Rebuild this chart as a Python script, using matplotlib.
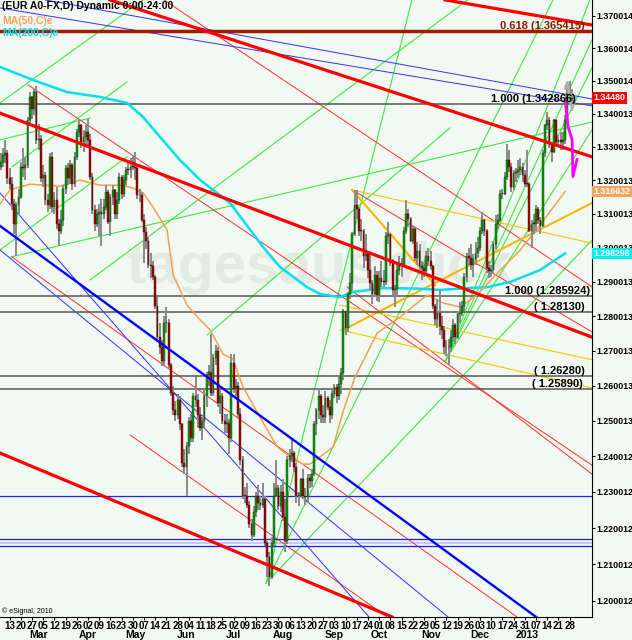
import matplotlib
matplotlib.use("Agg")
import matplotlib.pyplot as plt
import numpy as np
from matplotlib.ticker import FixedLocator, FixedFormatter, NullLocator

plt.rcParams['font.family'] = ['Liberation Sans Narrow', 'Liberation Sans', 'DejaVu Sans']

# trading-day index, 0 = Mon 13 Feb 2012 ; prices in pips after "1."
days = np.arange(-4, 252)
opens = [3240,3255,3275,3280,
 3205,3190,3130,3070,3125, 3150,3240,3235,3245,3380, 3450,3415,3465,3320,3325,
 3205,3215,3140,3125,3270, 3120,3140,3070,3050,3080, 3175,3235,3205,3245,3190,
 3270,3345,3365,3315,3330, 3345,3320,3210,3110,3070, 3100,3105,3100,3120,3165,
 3075,3150,3170,3100,3140, 3210,3160,3200,3230,3230, 3240,3240,3235,3155,3155,
 3080,3045,3020,2950,2945, 2915,2830,2740,2710,2670, 2780,2780,2660,2580,2530,
 2515,2560,2490,2380,2370, 2430,2500,2450,2570,2560, 2515,2480,2500,2570,2630,
 2640,2580,2680,2700,2550, 2570,2500,2490,2495,2450, 2665,2590,2600,2520,2390,
 2290,2290,2265,2210,2180, 2245,2290,2270,2265,2280, 2160,2120,2065,2160,2290,
 2310,2260,2300,2230,2165, 2390,2400,2410,2370,2290, 2290,2335,2290,2285,2340,
 2330,2350,2490,2530,2570, 2515,2510,2565,2540,2515, 2575,2595,2570,2605,2635,
 2815,2765,2865,2895,3040, 3125,3115,3050,3050,2975, 2980,2935,2895,2865,2920,
 2860,2910,2900,2900,3035, 3040,2955,2875,2880,2935, 2955,2950,3050,3100,3085,
 3020,3055,2970,2990,2945, 2940,2930,2975,2960,2945, 2830,2790,2810,2770,2760,
 2710,2710,2710,2740,2775, 2740,2805,2810,2830,2915, 2975,2970,2950,2965,2985,
 3000,3050,3080,3050,2940, 2930,2935,3010,3070,3080, 3160,3160,3210,3260,3240,
 3180,3220,3225,3230,3240, 3215,3190,3190,3050,3070, 3070,3115,3080,3065,3280,
 3365,3380,3305,3285,3380, 3315,3320,3315,3320,3380, 3460,3445]
highs = [3282,3295,3322,3290,
 3235,3210,3145,3135,3175, 3255,3295,3270,3390,3465, 3455,3475,3486,3370,3335,
 3245,3225,3160,3280,3285, 3165,3180,3085,3110,3185, 3245,3250,3260,3250,3285,
 3355,3385,3370,3350,3365, 3385,3340,3220,3125,3115, 3130,3145,3145,3185,3170,
 3160,3185,3175,3165,3220, 3215,3215,3240,3255,3265, 3275,3284,3245,3175,3165,
 3100,3060,3030,2985,2960, 2920,2855,2780,2730,2800, 2825,2790,2665,2600,2555,
 2575,2570,2495,2420,2440, 2510,2520,2580,2625,2575, 2540,2510,2590,2640,2660,
 2748,2690,2715,2710,2590, 2580,2520,2520,2505,2690, 2690,2620,2610,2535,2400,
 2315,2325,2275,2225,2260, 2300,2320,2290,2325,2290, 2165,2135,2175,2325,2390,
 2320,2320,2335,2280,2400, 2420,2445,2415,2380,2300, 2340,2365,2310,2350,2350,
 2365,2500,2535,2590,2575, 2545,2585,2570,2560,2590, 2605,2605,2625,2650,2820,
 2815,2870,2925,3045,3170, 3172,3120,3085,3055,3040, 2985,2985,2905,2945,2930,
 2930,2960,2935,3045,3075, 3040,2965,2890,2950,2975, 2970,3060,3140,3115,3090,
 3065,3060,3015,3010,2960, 2955,2990,3000,2990,2950, 2835,2850,2875,2800,2770,
 2730,2735,2760,2790,2780, 2815,2840,2845,2925,2985, 3000,3010,2980,3015,3030,
 3060,3105,3085,3055,2960, 2950,3020,3095,3100,3170, 3175,3225,3308,3290,3250,
 3230,3235,3260,3265,3250, 3230,3290,3195,3080,3100, 3125,3120,3090,3290,3370,
 3405,3390,3310,3385,3385, 3335,3345,3345,3395,3480, 3500,3475]
lows = [3230,3240,3250,3190,
 3175,3110,3040,2975,3100, 3145,3210,3200,3235,3365, 3385,3395,3310,3290,3195,
 3180,3125,3105,3115,3105, 3100,3055,3005,3040,3065, 3160,3185,3190,3170,3180,
 3260,3330,3295,3285,3310, 3305,3200,3100,3050,3060, 3035,3005,3085,3110,3070,
 3035,3125,3085,3085,3130, 3145,3150,3185,3215,3205, 3230,3200,3145,3135,3075,
 2955,2995,2940,2910,2905, 2820,2725,2690,2655,2655, 2750,2650,2570,2515,2500,
 2505,2475,2370,2350,2288, 2405,2440,2440,2540,2480, 2470,2445,2480,2540,2600,
 2570,2570,2660,2540,2520, 2490,2465,2465,2405,2440, 2580,2570,2510,2375,2280,
 2270,2255,2200,2165,2175, 2230,2250,2250,2255,2150, 2065,2042,2060,2150,2285,
 2250,2245,2220,2135,2155, 2370,2385,2355,2270,2260, 2285,2280,2265,2270,2310,
 2315,2345,2460,2505,2495, 2495,2495,2530,2495,2505, 2565,2550,2560,2575,2615,
 2745,2755,2850,2875,3035, 3085,3035,3020,2940,2960, 2910,2875,2835,2855,2845,
 2840,2885,2885,2890,3010, 2945,2860,2825,2860,2920, 2915,2945,3040,3060,3015,
 3010,2960,2950,2935,2905, 2915,2920,2945,2935,2820, 2775,2765,2745,2735,2690,
 2685,2661,2695,2725,2720, 2735,2780,2800,2815,2900, 2950,2935,2915,2950,2970,
 2990,3040,3035,2925,2910, 2915,2925,2995,3055,3075, 3145,3155,3200,3225,3165,
 3170,3195,3205,3215,3195, 3180,3180,3045,2998,3040, 3050,3070,3040,3060,3270,
 3350,3295,3255,3280,3305, 3300,3290,3290,3310,3370, 3430,3430]
closes = [3255,3275,3280,3205,
 3190,3130,3070,3125,3150, 3240,3235,3245,3380,3450, 3415,3465,3320,3325,3205,
 3215,3140,3125,3270,3120, 3140,3070,3050,3080,3175, 3235,3205,3245,3190,3270,
 3345,3365,3315,3330,3345, 3320,3210,3110,3070,3100, 3105,3100,3120,3165,3075,
 3150,3170,3100,3140,3210, 3160,3200,3230,3230,3240, 3240,3235,3155,3155,3080,
 3045,3020,2950,2945,2915, 2830,2740,2710,2670,2780, 2780,2660,2580,2530,2515,
 2560,2490,2380,2370,2430, 2500,2450,2570,2560,2515, 2480,2500,2570,2630,2640,
 2580,2680,2700,2550,2570, 2500,2490,2495,2450,2665, 2590,2600,2520,2390,2290,
 2290,2265,2210,2180,2245, 2290,2270,2265,2280,2160, 2120,2065,2160,2290,2310,
 2260,2300,2230,2165,2390, 2400,2410,2370,2290,2290, 2335,2290,2285,2340,2330,
 2350,2490,2530,2570,2515, 2510,2565,2540,2515,2575, 2595,2570,2605,2635,2815,
 2765,2865,2895,3040,3125, 3115,3050,3050,2975,2980, 2935,2895,2865,2920,2860,
 2910,2900,2900,3035,3040, 2955,2875,2880,2935,2955, 2950,3050,3100,3085,3020,
 3055,2970,2990,2945,2940, 2930,2975,2960,2945,2830, 2790,2810,2770,2760,2710,
 2710,2710,2740,2775,2740, 2805,2810,2830,2915,2975, 2970,2950,2965,2985,3000,
 3050,3080,3050,2940,2930, 2935,3010,3070,3080,3160, 3160,3210,3260,3240,3180,
 3220,3225,3230,3240,3215, 3190,3190,3050,3070,3070, 3115,3080,3065,3280,3365,
 3380,3305,3285,3380,3315, 3320,3315,3320,3380,3460, 3445,3448]

week_labels = ["13","20","27","05","12","19","26","02","09","16","23","30","07","14",
               "21","28","04","11","18","25","02","09","16","23","30","06","13","20",
               "27","03","10","17","24","01","08","15","22","29","05","12","19","26",
               "03","10","17","24","31","07","14","21","28"]
months = ["Mar", "Apr", "May", "Jun", "Jul", "Aug", "Sep", "Oct", "Nov", "Dec", "2013"]
month_days = [13, 35, 56, 79, 100, 122, 145, 165, 188, 210, 231]
price_ticks = [1.200012, 1.210012, 1.220012, 1.230012, 1.240012, 1.250013, 1.260013,
               1.270013, 1.280013, 1.290013, 1.300013, 1.310013, 1.320013, 1.330013,
               1.340013, 1.350014, 1.360014, 1.370014]

ma50_days = [-4.3, 0.2, 9.1, 22.5, 31.4, 40.4, 50.6, 55.1, 59.6, 64.0, 70.3, 73.0, 79.2,
             85.0, 89.5, 95.3, 99.7, 104.2, 111.8, 119.5, 125.2, 131.0, 134.1, 138.6,
             144.4, 148.8, 154.2, 164.1, 174.3, 186.3, 193.5, 201.1, 208.7, 219.0,
             228.0, 236.8, 248.0]
ma50 = [1.3129, 1.3171, 1.3188, 1.3182, 1.3200, 1.3185, 1.3185, 1.3176, 1.3162, 1.3120,
        1.3052, 1.2920, 1.2832, 1.2789, 1.2760, 1.2690, 1.2676, 1.2596, 1.2510, 1.2426,
        1.2398, 1.2378, 1.2378, 1.2398, 1.2426, 1.2525, 1.2624, 1.2751, 1.2797, 1.2861,
        1.2838, 1.2826, 1.2861, 1.2934, 1.2993, 1.3067, 1.3166]
ma200_days = [-4.3, 10.4, 25.6, 40.4, 52.4, 59.6, 67.1, 76.1, 85.0, 98.4, 113.1, 120.7,
              132.8, 138.6, 147.5, 153.3, 166.7, 181.9, 192.1, 204.2, 213.1, 223.4,
              236.8, 248.0]
ma200 = [1.3543, 1.3503, 1.3466, 1.3451, 1.3433, 1.3390, 1.3330, 1.3260, 1.3201, 1.3132,
         1.3002, 1.2943, 1.2884, 1.2864, 1.2855, 1.2870, 1.2881, 1.2880, 1.2876, 1.2881,
         1.2884, 1.2899, 1.2934, 1.2983]

# trend lines: (day, price) end points
red_thick = [[(-4.3, 1.3402), (260, 1.2739)], [(44.8, 1.3750), (260, 1.3270)],
             [(194.4, 1.3750), (260, 1.3672)], [(-4.3, 1.2409), (170.7, 1.1957)]]
red_thin = [[(8.2, 1.3488), (260, 1.2375)], [(68.9, 1.3750), (260, 1.2885)],
            [(150.6, 1.2885), (260, 1.2350)], [(152.9, 1.3171), (260, 1.2754)],
            [(1.1, 1.2972), (226.5, 1.1957)], [(53.8, 1.2460), (168.5, 1.1957)]]
blue_thick = [[(-4.3, 1.3064), (235, 1.1957)]]
blue_thin = [[(15.8, 1.3750), (260, 1.3445)], [(-4.3, 1.3725), (260, 1.3424)],
             [(-4.3, 1.3162), (160.4, 1.1957)], [(-4.3, 1.2993), (195.7, 1.1957)]]
blue_levels = [1.2290, 1.2170, 1.2150]
green = [[(-4.3, 1.3433), (59.6, 1.3750)], [(1.1, 1.3240), (52.4, 1.3497)],
         [(-4.3, 1.2993), (52.4, 1.3270)], [(-4.3, 1.3321), (35.9, 1.3387)],
         [(0.2, 1.2972), (260, 1.3375)], [(35.9, 1.2905), (204.6, 1.3750)],
         [(88.1, 1.2745), (196.6, 1.3357)], [(114.5, 1.2049), (242.6, 1.3750)],
         [(114.5, 1.2049), (260, 1.3022)], [(114.5, 1.2049), (179.6, 1.3750)],
         [(194.4, 1.2668), (259.1, 1.3750)], [(194.4, 1.2668), (260, 1.3626)],
         [(194.4, 1.2668), (260, 1.3540)], [(196.6, 1.2693), (260, 1.3351)]]
yellow_thick = [[(148.9, 1.2760), (260, 1.3132)], [(152.9, 1.3171), (189.9, 1.2890)]]
yellow_thin = [[(152.9, 1.3171), (260, 1.3013)], [(147.5, 1.2832), (260, 1.2674)],
               [(147.5, 1.2760), (260, 1.2593)]]

fib_levels = [1.365415, 1.342866, 1.285924, 1.28130, 1.26280, 1.25890]
fib_texts = ["0.618 (1.365415)", "1.000 (1.342866)", "1.000 (1.285924)",
             "( 1.28130)", "( 1.26280)", "( 1.25890)"]
fib_right = [0.988, 0.973, 0.997, 0.988, 0.988, 0.985]

proj_days = [248, 249.3, 251.1, 251.5, 253.3]
proj = [1.3442, 1.3361, 1.3322, 1.3211, 1.3262]
ghost_days = [248, 249, 251.1, 252.4]
ghost = [1.3478, 1.3496, 1.3412, 1.3451]

bg = '#f2f8f2'
fig = plt.figure(figsize=(6.32, 6.40), dpi=100)
fig.patch.set_facecolor(bg)
ax = fig.add_axes([0, 23 / 640, 592 / 632, 617 / 640])
ax.set_facecolor(bg)
ax.set_yscale('log')

ax.text(0.54, 0.565, "tagesausblick", transform=ax.transAxes, ha='center', va='center',
        fontsize=42, fontweight='bold', color='#e2eae2', zorder=0, family='Liberation Sans')


def draw(lines, **kw):
    for ln in lines:
        ax.plot([p[0] for p in ln], [p[1] for p in ln], **kw)


draw(green, color='#3ee83e', lw=0.8, zorder=2)
draw(red_thin, color='#ff3030', lw=0.7, zorder=2)
draw(blue_thin, color='#3030ff', lw=0.7, zorder=2)
draw(yellow_thin, color='#f5c800', lw=0.8, zorder=2)
draw(yellow_thick, color='#f5b800', lw=1.5, zorder=2)
for lv in blue_levels:
    ax.axhline(lv, color='#2020ff', lw=0.9, zorder=2)
ax.axhline(1.2160, color='#c8c8ff', lw=1.5, zorder=1)
for lv in fib_levels[1:]:
    ax.axhline(lv, color='#555555', lw=1.1, zorder=2)
ax.axhline(fib_levels[0], color='#a01e00', lw=2.5, zorder=2)

ax.plot(ma200_days, ma200, color='#00e0f0', lw=1.8, zorder=3)
ax.plot(ma50_days, ma50, color='#f4a050', lw=1.1, zorder=3)

# candles
o = 1 + np.array(opens) / 1e4
h = 1 + np.array(highs) / 1e4
l = 1 + np.array(lows) / 1e4
c = 1 + np.array(closes) / 1e4
up = c > o
ax.vlines(days, l, h, color='#8a8a8a', lw=1.4, zorder=4)
body = np.maximum(np.abs(c - o), 0.0002)
ax.bar(days[up], body[up], bottom=o[up], width=0.8, color='#00a000',
       edgecolor='#103010', lw=0.3, zorder=5)
ax.bar(days[~up], body[~up], bottom=np.minimum(o, c)[~up], width=0.8, color='#a80000',
       edgecolor='#301010', lw=0.3, zorder=5)

draw(red_thick, color='#ff0000', lw=2.3, zorder=6)
draw(blue_thick, color='#0000ff', lw=1.7, zorder=6)

ax.plot(ghost_days, ghost, color='#b0b0b0', lw=1.8, zorder=7)
ax.plot(proj_days, proj, color='#ff00ff', lw=2.0, zorder=7)

ax.set_xlim(-4.29, 260)
ax.set_ylim(1.19567, 1.37497)

for lv, txt, xr in zip(fib_levels, fib_texts, fib_right):
    ax.text(xr, lv, txt, transform=ax.get_yaxis_transform(), ha='right', va='bottom',
            fontsize=8, fontweight='bold',
            color='#8b1a00' if txt.startswith('0.618') else 'black', zorder=8)

# axes styling
for s in ['top', 'left']:
    ax.spines[s].set_visible(False)
ax.spines['right'].set_color('black')
ax.spines['bottom'].set_color('black')
ax.yaxis.tick_right()
ax.yaxis.set_major_locator(FixedLocator(price_ticks))
ax.yaxis.set_major_formatter(FixedFormatter([f"{t:.6f}" for t in price_ticks]))
ax.yaxis.set_minor_locator(NullLocator())
ax.tick_params(axis='y', labelsize=6.4, length=2, pad=1)
ax.xaxis.set_major_locator(FixedLocator(np.arange(0, 251, 5)))
ax.xaxis.set_major_formatter(FixedFormatter(week_labels))
ax.tick_params(axis='x', labelsize=7, length=2.5, pad=0.5)
for t in ax.get_xticklabels() + ax.get_yticklabels():
    t.set_fontweight('bold')
for d, m in zip(month_days, months):
    ax.text(d, -0.0215, m, transform=ax.get_xaxis_transform(), ha='center', va='top',
            fontsize=7.5, fontweight='bold')

# current value boxes on the price axis
for val, txt, col in [(1.3448, "1.34480", '#ff0000'), (1.316632, "1.316632", '#f4a460'),
                      (1.298298, "1.298298", '#00f0f0')]:
    ax.text(1.003, val, txt, transform=ax.get_yaxis_transform(), ha='left', va='center',
            fontsize=6.4, fontweight='bold', color='white', clip_on=False, zorder=10,
            bbox=dict(boxstyle='square,pad=0.15', fc=col, ec='none'))

ax.text(0.003, 0.998, "(EUR A0-FX,D) Dynamic 0:00-24:00", transform=ax.transAxes,
        ha='left', va='top', fontsize=7.5, fontweight='bold', zorder=9)
ax.text(0.003, 0.974, "MA(50,C)e", transform=ax.transAxes, ha='left', va='top',
        fontsize=7.5, fontweight='bold', color='#f4a460', zorder=9)
ax.text(0.003, 0.955, "MA(200,C)e", transform=ax.transAxes, ha='left', va='top',
        fontsize=7.5, fontweight='bold', color='#00e0f0', zorder=9)
ax.text(0.003, 0.004, "\u00a9 eSignal, 2010", transform=ax.transAxes, ha='left',
        va='bottom', fontsize=5, zorder=9)

fig.savefig("out.png", dpi=100, facecolor=bg)
